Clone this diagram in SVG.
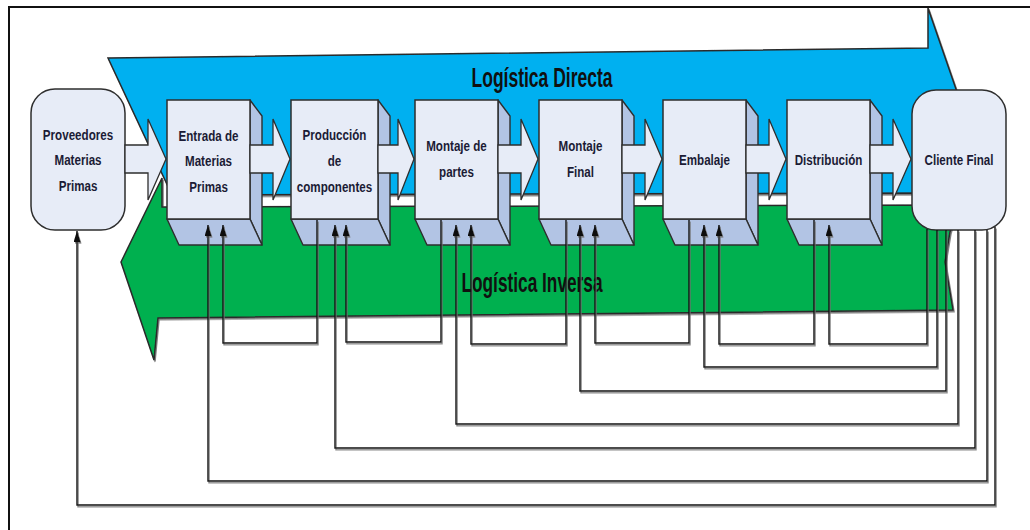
<svg xmlns="http://www.w3.org/2000/svg" width="1030" height="530" viewBox="0 0 1030 530">
  <defs>
    <style>
      .face { fill: #e7ecf7; stroke: #2e2e2e; stroke-width: 1.5; }
      .side { fill: #b2c4e4; stroke: #2e2e2e; stroke-width: 1.4; stroke-linejoin: round; }
      .flow { fill: #e7ecf7; stroke: #2e2e2e; stroke-width: 1.3; stroke-linejoin: miter; }
      .band { stroke: #2a2a2a; stroke-width: 1.5; stroke-linejoin: miter; }
      .lbl { font-family: "Liberation Sans", Arial, sans-serif; font-weight: bold; font-size: 14.5px; fill: #1b1b35; text-anchor: middle; }
      .title { font-family: "Liberation Sans", Arial, sans-serif; font-weight: bold; font-size: 28px; fill: #101010; text-anchor: middle; }
      .loop { fill: none; stroke: #111; stroke-width: 1.4; }
    </style>
    <marker id="head" markerUnits="userSpaceOnUse" markerWidth="12" markerHeight="8" refX="11" refY="3.5" orient="auto">
      <path d="M0,0 L11,3.5 L0,7 z" fill="#111"/>
    </marker>
    <filter id="shade" x="-5%" y="-5%" width="110%" height="110%">
      <feDropShadow dx="1" dy="1.6" stdDeviation="0.5" flood-color="#6e6e6e" flood-opacity="0.9"/>
    </filter>
  </defs>

  <rect width="1030" height="530" fill="#fff"/>
  <!-- frame -->
  <path d="M9,530 V7 H1030" fill="none" stroke="#111" stroke-width="2"/>

  <!-- forward flow band -->
  <g id="directa">
    <polygon class="band" fill="#00b0f0" filter="url(#shade)" points="108,58 928,48 928,8 966,118 928,228 928,193 172,195"/>
    <text class="title" transform="translate(542,87) scale(0.625,1)">Logística Directa</text>
  </g>

  <!-- reverse flow band -->
  <g id="inversa">
    <polygon class="band" fill="#00b050" filter="url(#shade)" points="121,262 162,178 162,207 958,205 950,232 945,262 953,310 158,318 154,360"/>
    <text class="title" transform="translate(532,292) scale(0.617,1)">Logística Inversa</text>
  </g>

  <!-- supplier -->
  <g id="proveedores">
    <rect class="face" x="31" y="89" width="94" height="141" rx="24"/>
    <g transform="translate(78,0) scale(0.8,1)">
      <text class="lbl" y="140">Proveedores</text>
      <text class="lbl" y="165">Materias</text>
      <text class="lbl" y="191">Primas</text>
    </g>
  </g>

  <!-- process stages -->
  <g id="entrada">
    <polygon class="side" points="250,100 262,116 262,245 250,219"/>
    <polygon class="side" points="167,219 250,219 262,245 179,245"/>
    <rect class="face" x="167" y="100" width="83" height="119"/>
    <g transform="translate(208.5,0) scale(0.8,1)">
      <text class="lbl" y="141">Entrada de</text>
      <text class="lbl" y="166">Materias</text>
      <text class="lbl" y="192">Primas</text>
    </g>
  </g>

  <g id="produccion">
    <polygon class="side" points="378,100 390,116 390,245 378,219"/>
    <polygon class="side" points="291,219 378,219 390,245 303,245"/>
    <rect class="face" x="291" y="100" width="87" height="119"/>
    <g transform="translate(334.5,0) scale(0.8,1)">
      <text class="lbl" y="140">Producción</text>
      <text class="lbl" y="166">de</text>
      <text class="lbl" y="192">componentes</text>
    </g>
  </g>

  <g id="montaje-partes">
    <polygon class="side" points="498,100 510,116 510,245 498,219"/>
    <polygon class="side" points="415,219 498,219 510,245 427,245"/>
    <rect class="face" x="415" y="100" width="83" height="119"/>
    <g transform="translate(456.5,0) scale(0.8,1)">
      <text class="lbl" y="151">Montaje de</text>
      <text class="lbl" y="177">partes</text>
    </g>
  </g>

  <g id="montaje-final">
    <polygon class="side" points="622,100 634,116 634,245 622,219"/>
    <polygon class="side" points="539,219 622,219 634,245 551,245"/>
    <rect class="face" x="539" y="100" width="83" height="119"/>
    <g transform="translate(580.5,0) scale(0.8,1)">
      <text class="lbl" y="151">Montaje</text>
      <text class="lbl" y="177">Final</text>
    </g>
  </g>

  <g id="embalaje">
    <polygon class="side" points="746,100 758,116 758,245 746,219"/>
    <polygon class="side" points="663,219 746,219 758,245 675,245"/>
    <rect class="face" x="663" y="100" width="83" height="119"/>
    <g transform="translate(704.5,0) scale(0.8,1)">
      <text class="lbl" y="165">Embalaje</text>
    </g>
  </g>

  <g id="distribucion">
    <polygon class="side" points="870,100 882,116 882,245 870,219"/>
    <polygon class="side" points="787,219 870,219 882,245 799,245"/>
    <rect class="face" x="787" y="100" width="83" height="119"/>
    <g transform="translate(828.5,0) scale(0.8,1)">
      <text class="lbl" y="165">Distribución</text>
    </g>
  </g>

  <!-- end customer -->
  <g id="cliente">
    <rect class="face" x="912" y="90" width="94" height="140" rx="24"/>
    <g transform="translate(959,0) scale(0.8,1)">
      <text class="lbl" y="165">Cliente Final</text>
    </g>
  </g>

  <!-- block arrows between stages -->
  <g id="flow-arrows">
    <polygon class="flow" points="125,145 148,145 148,119 166,159 148,200 148,173 125,173"/>
    <polygon class="flow" points="250,145 273,145 273,119 290,159 273,200 273,173 250,173"/>
    <polygon class="flow" points="378,145 398,145 398,119 414,159 398,200 398,173 378,173"/>
    <polygon class="flow" points="498,145 521,145 521,119 538,159 521,200 521,173 498,173"/>
    <polygon class="flow" points="622,145 645,145 645,119 662,159 645,200 645,173 622,173"/>
    <polygon class="flow" points="746,145 769,145 769,119 786,159 769,200 769,173 746,173"/>
    <polygon class="flow" points="870,145 893,145 893,119 911,159 893,200 893,173 870,173"/>
  </g>

  <!-- return loops -->
  <g id="connectors" filter="url(#shade)">
    <path class="loop" marker-end="url(#head)" d="M317,220 V343 H223 V225"/>
    <path class="loop" marker-end="url(#head)" d="M441,220 V342 H346 V225"/>
    <path class="loop" marker-end="url(#head)" d="M566,220 V344 H471 V225"/>
    <path class="loop" marker-end="url(#head)" d="M689,220 V343 H595 V225"/>
    <path class="loop" marker-end="url(#head)" d="M814,220 V344 H719 V225"/>
    <path class="loop" marker-end="url(#head)" d="M927,229 V344 H829 V225"/>
    <path class="loop" marker-end="url(#head)" d="M937,230 V367 H704 V225"/>
    <path class="loop" marker-end="url(#head)" d="M946,230 V391 H580 V225"/>
    <path class="loop" marker-end="url(#head)" d="M958,230 V424 H456 V225"/>
    <path class="loop" marker-end="url(#head)" d="M975,230 V448 H335 V225"/>
    <path class="loop" marker-end="url(#head)" d="M987,230 V481 H208 V225"/>
    <path class="loop" marker-end="url(#head)" d="M995,227 V505 H77 V231"/>
  </g>
</svg>
